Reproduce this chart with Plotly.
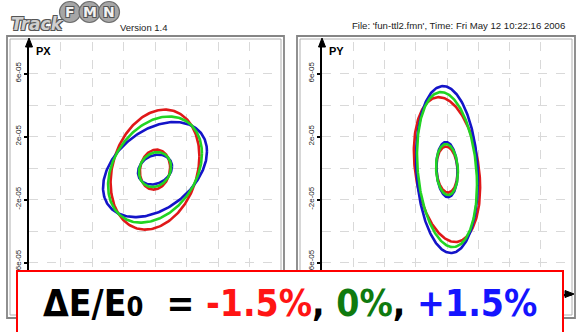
import numpy as np
import plotly.graph_objects as go

W, H = 577, 332

# Energy offsets and their colours
ENERGIES = ["-1.5%", "0%", "+1.5%"]
COLORS = ["#e01818", "#22d422", "#1414c8"]

# Phase-space ellipses: half-width in position, half-height in momentum,
# and x/p correlation (cosine of phase) for each energy offset.
PX_OUTER_A = [1.41e-3, 1.49e-3, 1.65e-3]
PX_OUTER_B = [3.81e-5, 3.37e-5, 3.02e-5]
PX_OUTER_C = [0.22, 0.30, 0.38]
PX_INNER_A = [0.48e-3, 0.51e-3, 0.54e-3]
PX_INNER_B = [1.27e-5, 1.11e-5, 0.95e-5]
PX_INNER_C = [0.10, 0.15, 0.20]
PX_CENTER = [0.0, -0.1e-5]

PY_OUTER_A = [1.06e-3, 0.96e-3, 0.99e-3]
PY_OUTER_B = [4.60e-5, 4.92e-5, 5.30e-5]
PY_OUTER_C = [-0.25, -0.20, -0.13]
PY_INNER_A = [0.34e-3, 0.35e-3, 0.34e-3]
PY_INNER_B = [1.46e-5, 1.62e-5, 1.75e-5]
PY_INNER_C = [-0.10, -0.10, -0.10]
PY_CENTER = [0.0, -0.1e-5]

Y_TICKS = [-6e-5, -2e-5, 2e-5, 6e-5]
Y_TICK_TEXT = ["-6e-05", "-2e-05", "2e-05", "6e-05"]
Y_MINOR = [-8e-5, -4e-5, 0.0, 4e-5, 8e-5]
X_GRID = [-3e-3, -2e-3, -1e-3, 0.0, 1e-3, 2e-3, 3e-3]

HEADER_FILE = "File: 'fun-ttl2.fmn', Time: Fri May 12 10:22:16 2006"
HEADER_VERSION = "Version 1.4"


def px(x):
    return x / W


def py(y):
    return 1 - y / H


def ellipse(a, b, c, center):
    t = np.linspace(0, 2 * np.pi, 241)
    phi = np.arccos(c)
    return center[0] + a * np.cos(t), center[1] + b * np.cos(t + phi)


fig = go.Figure()

panels = [
    ("x", "y", PX_CENTER, [(PX_OUTER_A, PX_OUTER_B, PX_OUTER_C), (PX_INNER_A, PX_INNER_B, PX_INNER_C)]),
    ("x2", "y2", PY_CENTER, [(PY_OUTER_A, PY_OUTER_B, PY_OUTER_C), (PY_INNER_A, PY_INNER_B, PY_INNER_C)]),
]
draw_order = [0, 2, 1]
for xa, ya, center, rings in panels:
    for A, B, C in rings:
        for i in draw_order:
            ex, ey = ellipse(A[i], B[i], C[i], center)
            fig.add_trace(go.Scatter(
                x=ex, y=ey, mode="lines", xaxis=xa, yaxis=ya,
                line=dict(color=COLORS[i], width=2.6), showlegend=False,
                hoverinfo="skip", name=ENERGIES[i]))

grid = dict(gridcolor="#d9d9d9", griddash="dash", gridwidth=1)
xcommon = dict(range=[-4e-3, 4e-3], tickmode="array", tickvals=X_GRID,
               showticklabels=False, ticks="", showgrid=True, zeroline=False,
               showline=True, linecolor="black", linewidth=2, **grid)
ycommon = dict(range=[-8e-5, 8e-5], tickmode="array", tickvals=Y_TICKS,
               ticktext=Y_TICK_TEXT, tickangle=-90, ticks="outside", ticklen=3,
               tickwidth=1.5, tickcolor="black", showgrid=True, zeroline=False,
               showline=True, linecolor="black", linewidth=2,
               tickfont=dict(family="Liberation Sans", size=8, color="#222"),
               minor=dict(tickmode="array", tickvals=Y_MINOR, showgrid=True,
                          ticks="", **grid),
               **grid)

ytop, ybot = 42, 294
fig.update_layout(
    width=W, height=H, margin=dict(l=0, r=0, t=0, b=0),
    paper_bgcolor="white", plot_bgcolor="white",
    xaxis=dict(domain=[px(29), px(281)], anchor="y", **xcommon),
    yaxis=dict(domain=[py(ybot), py(ytop)], anchor="x", **ycommon),
    xaxis2=dict(domain=[px(322), px(572)], anchor="y2", **xcommon),
    yaxis2=dict(domain=[py(ybot), py(ytop)], anchor="x2", **ycommon),
)

shapes = []
# double grey frames around each panel
for x0, x1 in [(7, 284), (297, 575)]:
    shapes.append(dict(type="rect", xref="paper", yref="paper",
                       x0=px(x0), x1=px(x1), y0=py(318), y1=py(36),
                       line=dict(color="#858585", width=1.8)))
    shapes.append(dict(type="rect", xref="paper", yref="paper",
                       x0=px(x0 + 3), x1=px(x1 - 3), y0=py(315), y1=py(39),
                       line=dict(color="#b0b0b0", width=1)))

# arrowheads at the axis ends
for ax_x, right in [(29, 281), (322, 572)]:
    shapes.append(dict(type="path", xref="paper", yref="paper",
                       path=f"M {px(ax_x)},{py(38)} L {px(ax_x - 3.5)},{py(47)} L {px(ax_x + 3.5)},{py(47)} Z",
                       fillcolor="black", line=dict(color="black", width=1)))
    shapes.append(dict(type="path", xref="paper", yref="paper",
                       path=f"M {px(right + 2)},{py(ybot)} L {px(right - 7)},{py(ybot - 3.5)} L {px(right - 7)},{py(ybot + 3.5)} Z",
                       fillcolor="black", line=dict(color="black", width=1)))

# logo circles
for cx in [70, 89.5, 109]:
    shapes.append(dict(type="circle", xref="paper", yref="paper",
                       x0=px(cx - 10.5), x1=px(cx + 10.5), y0=py(22.5), y1=py(1.5),
                       fillcolor="#a6a6a6", line=dict(color="#6e6e6e", width=1.2)))

# legend box
shapes.append(dict(type="rect", xref="paper", yref="paper",
                   x0=px(17), x1=px(563), y0=py(340), y1=py(271),
                   fillcolor="white", line=dict(color="#ff0000", width=2),
                   layer="above"))
fig.update_layout(shapes=shapes)

outline = "-1px -1px 0 #555, 1px -1px 0 #555, -1px 1px 0 #555, 1px 1px 0 #555"
ann = []
ann.append(dict(x=px(9), y=py(24), xref="paper", yref="paper", text="Track",
                showarrow=False, xanchor="left", yanchor="middle",
                font=dict(family="DejaVu Sans", size=17, color="#cfcfcf",
                          style="italic", weight="bold", shadow=outline)))
for cx, letter in zip([70, 89.5, 109], ["F", "M", "N"]):
    ann.append(dict(x=px(cx), y=py(12), xref="paper", yref="paper", text=letter,
                    showarrow=False, xanchor="center", yanchor="middle",
                    font=dict(family="DejaVu Sans", size=14, color="#f2f2f2",
                              weight="bold", shadow=outline)))
ann.append(dict(x=px(118), y=py(27), xref="paper", yref="paper", text=HEADER_VERSION,
                showarrow=False, xanchor="left", yanchor="middle",
                font=dict(family="Liberation Sans", size=9.5, color="#222")))
ann.append(dict(x=px(350), y=py(26), xref="paper", yref="paper", text=HEADER_FILE,
                showarrow=False, xanchor="left", yanchor="middle",
                font=dict(family="Liberation Sans", size=9.6, color="#222")))
for x0, lab in [(34, "PX"), (327, "PY")]:
    ann.append(dict(x=px(x0), y=py(51), xref="paper", yref="paper", text=lab,
                    showarrow=False, xanchor="left", yanchor="middle",
                    font=dict(family="Liberation Sans", size=11, color="black",
                              weight="bold")))

nb = "\u00a0"
big = (f"ΔE/E<span style='font-size:27px'>0</span>{nb}{nb}={nb}"
       f"<span style='color:#ff1414'>{ENERGIES[0]}</span>,{nb}"
       f"<span style='color:#0f7a0f'>{ENERGIES[1]}</span>,{nb}"
       f"<span style='color:#1414ff'>{ENERGIES[2]}</span>")
ann.append(dict(x=px(290), y=py(303), xref="paper", yref="paper", text=big,
                showarrow=False, xanchor="center", yanchor="middle",
                font=dict(family="DejaVu Sans Condensed", size=37, color="black",
                          weight="bold")))
fig.update_layout(annotations=ann)

fig.write_html("out.html")
